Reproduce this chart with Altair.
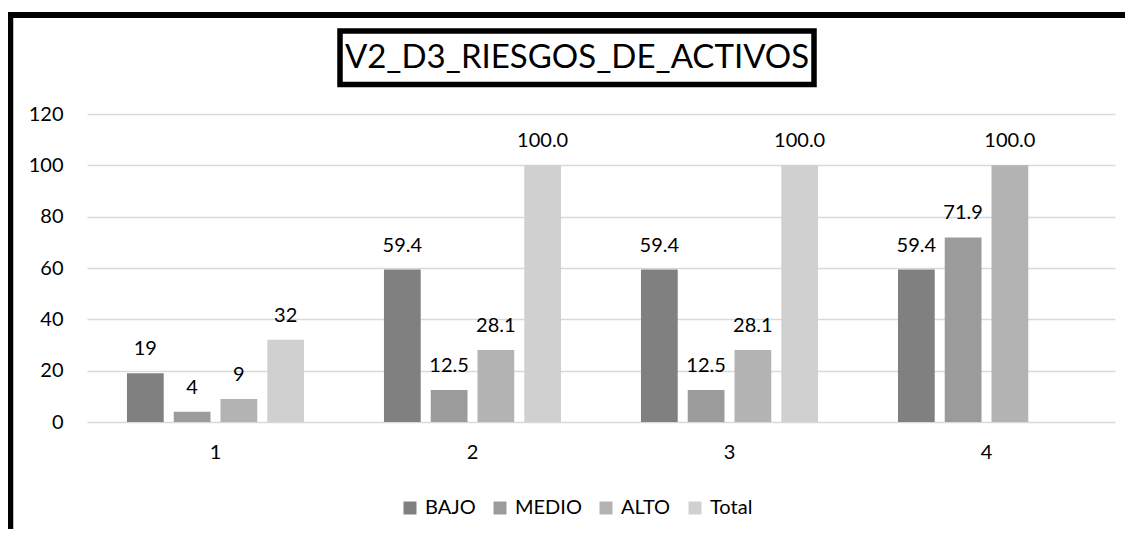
import altair as alt
import pandas as pd

categories = ["1", "2", "3", "4"]
series = ["BAJO", "MEDIO", "ALTO", "Total"]
bajo = [19, 59.4, 59.4, 59.4]
medio = [4, 12.5, 12.5, 71.9]
alto = [9, 28.1, 28.1, 100.0]
total = [32, 100.0, 100.0, None]
bajo_labels = ["19", "59.4", "59.4", "59.4"]
medio_labels = ["4", "12.5", "12.5", "71.9"]
alto_labels = ["9", "28.1", "28.1", "100.0"]
total_labels = ["32", "100.0", "100.0", None]
colors = ["#808080", "#9b9b9b", "#b3b3b3", "#d0d0d0"]
title_text = "V2_D3_RIESGOS_DE_ACTIVOS"
y_ticks = [0, 20, 40, 60, 80, 100, 120]

FONT = "Lato"

rows = []
for s, vals, labs in zip(series, [bajo, medio, alto, total],
                         [bajo_labels, medio_labels, alto_labels, total_labels]):
    for c, v, l in zip(categories, vals, labs):
        if v is None:
            continue
        rows.append({"cat": c, "serie": s, "value": v, "label": l})
df = pd.DataFrame(rows)

W, H = 1028, 308
PAD = {"left": 79, "top": 106, "right": 10, "bottom": 107}

x_enc = alt.X("cat:N", sort=categories,
              scale=alt.Scale(domain=categories, paddingInner=0.311, paddingOuter=0.1555),
              axis=alt.Axis(title=None, labelAngle=0, ticks=False, domain=False,
                            labelFontSize=20, labelPadding=20, labelColor="black",
                            labelFont=FONT, grid=False))
xo_enc = alt.XOffset("serie:N", sort=series,
                     scale=alt.Scale(domain=series, paddingInner=0.214, paddingOuter=0))
y_enc = alt.Y("value:Q", scale=alt.Scale(domain=[0, 120], nice=False),
              axis=alt.Axis(title=None, values=y_ticks, ticks=False, domain=False,
                            labelFontSize=20, labelPadding=24, labelColor="black",
                            labelFont=FONT, gridColor="#d9d9d9", gridWidth=1.5))

bars = alt.Chart(df).mark_bar().encode(
    x=x_enc, xOffset=xo_enc, y=y_enc,
    color=alt.Color("serie:N", sort=series,
                    scale=alt.Scale(domain=series, range=colors),
                    legend=alt.Legend(orient="none", legendX=313, legendY=384,
                                      direction="horizontal", title=None,
                                      symbolType="square", symbolSize=169,
                                      symbolStrokeWidth=0,
                                      labelFontSize=20, labelFont=FONT,
                                      labelColor="black",
                                      columnPadding=14, labelOffset=5)),
)

labels = alt.Chart(df).mark_text(dy=-18, baseline="alphabetic", fontSize=20,
                                 font=FONT, color="black").encode(
    x=x_enc, xOffset=xo_enc, y=y_enc, text="label:N")

one = alt.Data(values=[{"k": 1}])

frame_top = alt.Chart(one).mark_rule(color="black", strokeWidth=6).encode(
    x=alt.value(-PAD["left"]), x2=alt.value(W + PAD["right"]), y=alt.value(-99))
frame_left = alt.Chart(one).mark_rule(color="black", strokeWidth=5.5).encode(
    x=alt.value(-76.5), y=alt.value(-102), y2=alt.value(H + PAD["bottom"]))

title_box = alt.Chart(one).mark_rect(fill="white", stroke="black", strokeWidth=5.5).encode(
    x=alt.value(253), x2=alt.value(727), y=alt.value(-83), y2=alt.value(-29.5))
title_txt = alt.Chart(one).mark_text(text=title_text, fontSize=33, font=FONT,
                                     color="black", align="center",
                                     baseline="middle").encode(
    x=alt.value(490), y=alt.value(-56))

chart = alt.layer(frame_top, frame_left, title_box, title_txt, bars, labels).properties(
    width=W, height=H, padding=PAD,
    autosize=alt.AutoSizeParams(type="none"),
).configure_view(stroke=None)

chart.save("out.html", embed_options={"renderer": "svg", "actions": False})
